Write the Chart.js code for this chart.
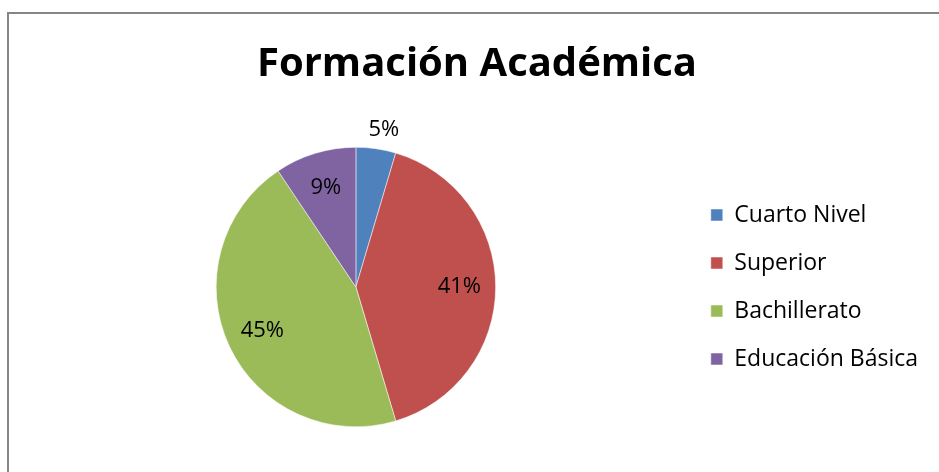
<!DOCTYPE html>
<html lang="es">
<head>
    <meta charset="UTF-8">
    <title>Formación Académica</title>
    <script src="https://cdn.jsdelivr.net/npm/chart.js"></script>
    <style>
        html, body { margin: 0; padding: 0; background: #fff; overflow: hidden; }
        .frame { position: absolute; left: 7px; top: 12px; width: 1000px; height: 600px; border: 2px solid #868686; }
        #myChart { position: absolute; left: 0; top: 0; }
    </style>
</head>
<body>
    <div class="frame"></div>
    <canvas id="myChart" width="939" height="472"></canvas>

    <script>
        // Data
        const categories = ['Cuarto Nivel', 'Superior', 'Bachillerato', 'Educación Básica'];
        const shares = [4.6, 40.8, 45.2, 9.4];
        const colors = ['#4F81BD', '#C0504D', '#9BBB59', '#8064A2'];

        // percent labels on the slices (inside, small ones outside)
        const sliceLabels = {
            id: 'sliceLabels',
            afterDatasetsDraw(chart) {
                const ctx = chart.ctx;
                const meta = chart.getDatasetMeta(0);
                const values = chart.data.datasets[0].data;
                const total = values.reduce((a, b) => a + b, 0);
                ctx.save();
                ctx.font = '22px "Open Sans"';
                ctx.fillStyle = '#000';
                ctx.textAlign = 'center';
                ctx.textBaseline = 'middle';
                meta.data.forEach((arc, i) => {
                    const pct = values[i] / total;
                    const mid = (arc.startAngle + arc.endAngle) / 2;
                    const r = pct < 0.06 ? arc.outerRadius + 19 : arc.outerRadius * 0.74;
                    let x = arc.x + Math.cos(mid) * r;
                    if (pct < 0.06) x += 5;
                    ctx.fillText(Math.round(pct * 100) + '%', x, arc.y + Math.sin(mid) * r);
                });
                ctx.restore();
            }
        };

        const ctx = document.getElementById('myChart').getContext('2d');
        const myChart = new Chart(ctx, {
            type: 'pie',
            data: {
                labels: categories,
                datasets: [{
                    data: shares,
                    backgroundColor: colors,
                    borderColor: '#ffffff',
                    borderWidth: 0.5
                }]
            },
            options: {
                responsive: false,
                animation: false,
                devicePixelRatio: 1,
                layout: { padding: { left: 26, right: 11, top: 0, bottom: 45 } },
                plugins: {
                    title: {
                        display: true,
                        text: 'Formación Académica',
                        color: '#000',
                        font: { family: 'Open Sans', size: 40, weight: 'bold' },
                        padding: { top: 41, bottom: 58 }
                    },
                    legend: {
                        position: 'right',
                        fullSize: false,
                        labels: {
                            color: '#000',
                            font: { family: 'Open Sans', size: 23 },
                            boxWidth: 12,
                            boxHeight: 12,
                            padding: 25
                        }
                    },
                    tooltip: { enabled: false }
                }
            },
            plugins: [sliceLabels]
        });
    </script>
</body>
</html>
